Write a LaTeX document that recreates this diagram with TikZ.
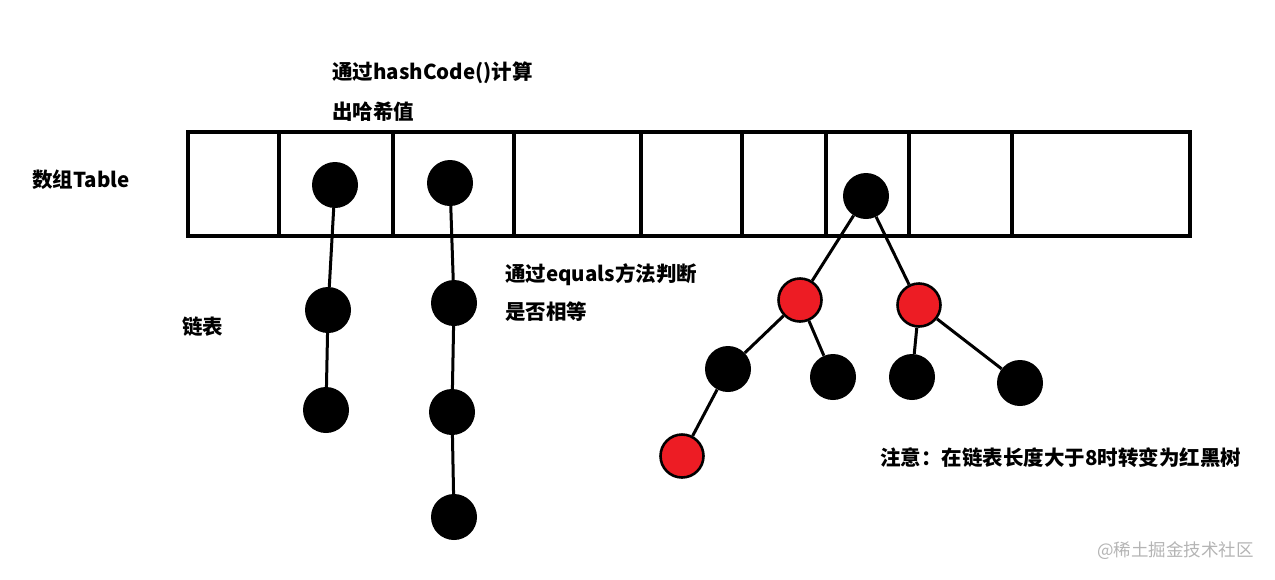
\documentclass[tikz,border=0pt]{standalone}
\usepackage{fontspec}
\usepackage{tikz}
\usetikzlibrary{positioning}
\newfontfamily\cjk{Noto Sans CJK SC}
\definecolor{paintred}{HTML}{ED1C24}
\definecolor{mark}{HTML}{B4B4B4}
\tikzset{
  edge/.style={line width=3pt,draw=black},
  cellline/.style={line width=3.2pt,draw=black},
  blacknode/.style={circle,fill=black,inner sep=0pt,minimum size=46pt},
  rednode/.style={circle,fill=paintred,draw=black,line width=2.6pt,inner sep=0pt,minimum size=43pt},
  note/.style={anchor=west,inner sep=0pt,font=\cjk\bfseries\fontsize{20.5}{24}\selectfont},
  stamp/.style={anchor=west,inner sep=0pt,text=mark,font=\cjk\fontsize{17.5}{20}\selectfont}
}
\begin{document}
\begin{tikzpicture}[x=1pt,y=-1pt]
  \useasboundingbox (0,0) rectangle (1275,579);

  % the array
  \draw[cellline] (188,132) rectangle (1190,236);
  \foreach \xd in {279,393,514,641,742,826,909,1012}
    \draw[cellline] (\xd,132) -- (\xd,236);

  \node[note] (tbl) at (32,180) {数组Table};
  \node[note] (hash1) at (332,73) {通过hashCode()计算};
  \node[note] (hash2) at (332,112) {出哈希值};
  \node[note] (lst) at (182,327) {链表};
  \node[note] (eq1) at (505,275) {通过equals方法判断};
  \node[note] (eq2) at (505,312) {是否相等};
  \node[note] (warn) at (880,458) {注意：在链表长度大于8时转变为红黑树};
  \node[stamp] (site) at (1097,551) {@稀土掘金技术社区};

  % linked lists
  \node[blacknode] (a0) at (335,185) {};
  \node[blacknode] (a1) at (328,310) {};
  \node[blacknode] (a2) at (326,410) {};
  \node[blacknode] (b0) at (450,183) {};
  \node[blacknode] (b1) at (454,303) {};
  \node[blacknode] (b2) at (452,412) {};
  \node[blacknode] (b3) at (454,517) {};

  % red-black tree
  \node[blacknode] (root) at (866,196) {};
  \node[rednode] (rl) at (800,300) {};
  \node[rednode] (rr) at (919,305) {};
  \node[blacknode] (ll) at (728,369) {};
  \node[blacknode] (lr) at (833,377) {};
  \node[blacknode] (rll) at (912,377) {};
  \node[blacknode] (rrr) at (1020,383) {};
  \node[rednode] (lll) at (682,456) {};

  \draw[edge] (a0)--(a1); \draw[edge] (a1)--(a2);
  \draw[edge] (b0)--(b1); \draw[edge] (b1)--(b2); \draw[edge] (b2)--(b3);
  \draw[edge] (root)--(rl); \draw[edge] (root)--(rr);
  \draw[edge] (rl)--(ll); \draw[edge] (rl)--(lr);
  \draw[edge] (rr)--(rll); \draw[edge] (rr)--(rrr);
  \draw[edge] (ll)--(lll);
\end{tikzpicture}
\end{document}
